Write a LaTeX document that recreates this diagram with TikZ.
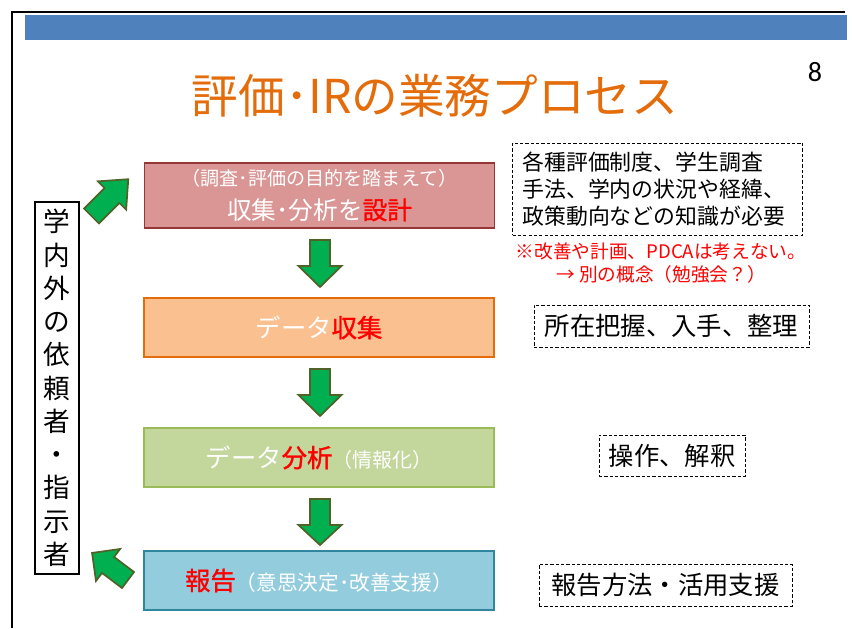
\documentclass[tikz,border=0pt]{standalone}
\usepackage{fontspec}
\setmainfont{Noto Sans CJK JP}
\newfontfamily\hotfont[FakeBold=1.3]{Noto Sans CJK JP}
\newfontfamily\numfont{Carlito}
\definecolor{barblue}{HTML}{4F81BD}
\definecolor{titleorange}{HTML}{E46C0A}
\definecolor{fillA}{HTML}{D99694}
\definecolor{lineA}{HTML}{953735}
\definecolor{fillB}{HTML}{FAC090}
\definecolor{lineB}{HTML}{E46C0A}
\definecolor{fillC}{HTML}{C3D69B}
\definecolor{lineC}{HTML}{9BBB59}
\definecolor{fillD}{HTML}{93CDDD}
\definecolor{lineD}{HTML}{31859C}
\definecolor{arrowfill}{HTML}{00B050}
\definecolor{arrowline}{HTML}{4F6228}
\definecolor{hotred}{HTML}{FF0000}
\newcommand\hot[1]{{\color{hotred}\hotfont #1}}
\tikzset{
  mainbox/.style={draw, line width=1.4pt, minimum width=262.5pt, align=center, text=white, inner sep=0pt},
  notebox/.style={draw, line width=0.7pt, dash pattern=on 2.4pt off 1.6pt, inner sep=0pt, font=\fontsize{19}{24}\selectfont},
  greenarrow/.style={fill=arrowfill, draw=arrowline, line width=1.3pt, line join=miter},
  pics/blockarrow/.style n args={4}{code={
    \path[greenarrow] (0,-#3/2) -- (#1-#2,-#3/2) -- (#1-#2,-#4/2) -- (#1,0)
      -- (#1-#2,#4/2) -- (#1-#2,#3/2) -- (0,#3/2) -- cycle;
  }}
}
\begin{document}
\begin{tikzpicture}[x=0.75pt,y=-0.75pt]
\useasboundingbox (0,0) rectangle (852,628);
% slide frame and header bar
\draw[line width=1.5pt] (12,628) -- (12,12) -- (845,12);
\fill[barblue] (25,15) rectangle (847,40);
% title and page number
\node[text=titleorange, font=\fontsize{35}{40}\selectfont] (title) at (435,96) {評価･IRの業務プロセス};
\node[font=\numfont\fontsize{21}{24}\selectfont] (pageno) at (815,72) {8};
% left requester box
\node[draw, line width=0.9pt, minimum width=33pt, minimum height=279pt, inner sep=0pt, align=center,
      font=\fontsize{20}{24.94}\selectfont] (req) at (57,388)
  {学\\内\\外\\の\\依\\頼\\者\\・\\指\\示\\者};
% main process boxes
\node[mainbox, fill=fillA, draw=lineA, minimum height=48.75pt, font=\fontsize{18.5}{25}\selectfont] (design) at (319.5,195.5)
  {{\fontsize{14.3}{16}\selectfont （調査･評価の目的を踏まえて）}\\収集･分析を\hot{設計}};
\node[mainbox, fill=fillB, draw=lineB, minimum height=44.25pt, font=\fontsize{19}{24}\selectfont] (collect) at (319,327.5)
  {データ\hot{収集}};
\node[mainbox, fill=fillC, draw=lineC, minimum height=44.25pt, font=\fontsize{19}{24}\selectfont] (analyze) at (319,457.5)
  {データ\hot{分析}{\fontsize{15}{18}\selectfont （情報化）}};
\node[mainbox, fill=fillD, draw=lineD, minimum height=44.25pt, font=\fontsize{19}{24}\selectfont] (report) at (319,580.5)
  {\hot{報告}{\fontsize{15.5}{18}\selectfont （意思決定･改善支援）}};
% block arrows
\pic[rotate=-90] at (320,240) {blockarrow={47}{21}{20}{43}};
\pic[rotate=-90] at (320,369) {blockarrow={47}{21}{20}{43}};
\pic[rotate=-90] at (320,499) {blockarrow={46}{20}{20}{43}};
\pic[rotate=45] at (91.5,216) {blockarrow={52}{23}{21}{40}};
\pic[rotate=143] at (128,580) {blockarrow={45}{20}{20}{40}};
% notes on the right
\node[notebox, align=left, text width=202.5pt, inner xsep=7.5pt, minimum height=69pt,
      font=\fontsize{16.4}{20}\selectfont] (know) at (657.5,189)
  {各種評価制度、学生調査\\手法、学内の状況や経緯、\\政策動向などの知識が必要};
\node[text=hotred, align=center, font=\fontsize{14}{17.25}\selectfont] (caution) at (661,263.5)
  {※改善や計画、PDCAは考えない。\\→ 別の概念（勉強会？）};
\node[notebox, minimum width=206.25pt, minimum height=31.5pt] (noteB) at (671.5,326) {所在把握、入手、整理};
\node[notebox, minimum width=109.5pt, minimum height=30.75pt] (noteC) at (672,455.5) {操作、解釈};
\node[notebox, minimum width=189.75pt, minimum height=31.5pt] (noteD) at (665.5,585) {報告方法・活用支援};
\end{tikzpicture}
\end{document}
